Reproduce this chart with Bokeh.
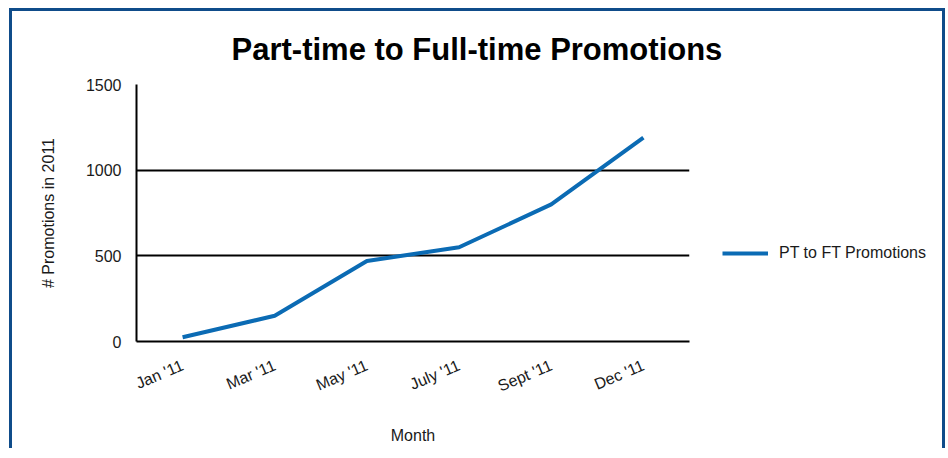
import math
from bokeh.plotting import figure
from bokeh.models import FixedTicker, Legend, LegendItem, ColumnDataSource
from bokeh.embed import file_html
from bokeh.resources import INLINE

# ---- data ----
months = ["Jan '11", "Mar '11", "May '11", "July '11", "Sept '11", "Dec '11"]
promotions = [25, 150, 470, 550, 800, 1190]
y_ticks = [0, 500, 1000, 1500]
series_label = "PT to FT Promotions"
title_text = "Part-time to Full-time Promotions"
x_label = "Month"
y_label = "# Promotions in 2011"

FONT = "Liberation Sans"
TEXT = "#1a1a1a"
BLUE = "#0b6bb4"
FRAME_BLUE = "#0f4c8a"

p = figure(
    x_range=months, y_range=(0, 1500),
    frame_width=553, frame_height=257,
    output_backend="svg", toolbar_location=None,
    min_border_left=124, min_border_right=253,
    min_border_top=73, min_border_bottom=107,
    styles={
        "margin-left": "9px", "margin-top": "8px",
        "box-sizing": "border-box",
        "width": "936px",
        "overflow": "hidden",
        "border-top": f"3px solid {FRAME_BLUE}",
        "border-left": f"3px solid {FRAME_BLUE}",
        "border-right": f"3px solid {FRAME_BLUE}",
    },
)
p.background_fill_color = "white"
p.border_fill_color = "white"
p.outline_line_color = None

source = ColumnDataSource(dict(month=months, promotions=promotions))
r = p.line("month", "promotions", source=source, line_color=BLUE, line_width=4)

# title
p.title.text = title_text
p.title.text_font = "Liberation Sans"
p.title.text_font_style = "bold"
p.title.text_font_size = "31px"
p.title.text_color = "black"
p.title.align = "left"
p.title.offset = 95
p.title.standoff = 36

# axes
for ax in (p.xaxis[0], p.yaxis[0]):
    ax.axis_line_color = "black"
    ax.axis_line_width = 2
    ax.major_tick_out = 0
    ax.major_tick_in = 0
    ax.minor_tick_line_color = None
    ax.major_tick_line_color = None
    ax.major_label_text_font = FONT
    ax.major_label_text_font_size = "16px"
    ax.major_label_text_color = TEXT
    ax.axis_label_text_font = FONT
    ax.axis_label_text_font_size = "16px"
    ax.axis_label_text_font_style = "normal"
    ax.axis_label_text_color = TEXT

p.xaxis.axis_label = x_label
p.xaxis.major_label_orientation = 0.40
p.xaxis.major_label_standoff = 23
p.xaxis.axis_label_standoff = 22

p.yaxis.axis_label = y_label
p.yaxis.ticker = FixedTicker(ticks=y_ticks)
p.yaxis.major_label_standoff = 15
p.yaxis.axis_label_standoff = 26

p.xgrid.grid_line_color = None
p.ygrid.grid_line_color = "black"
p.ygrid.grid_line_width = 2

legend = Legend(
    items=[LegendItem(label=series_label, renderers=[r])],
    location=(33, 78),
    border_line_color=None, background_fill_alpha=0,
    padding=0, margin=0,
    glyph_width=46, glyph_height=20, label_height=20,
    label_standoff=11,
    label_text_font=FONT, label_text_font_size="16px",
    label_text_color=TEXT,
)
p.add_layout(legend, "right")

open("out.html", "w").write(file_html(p, INLINE))
